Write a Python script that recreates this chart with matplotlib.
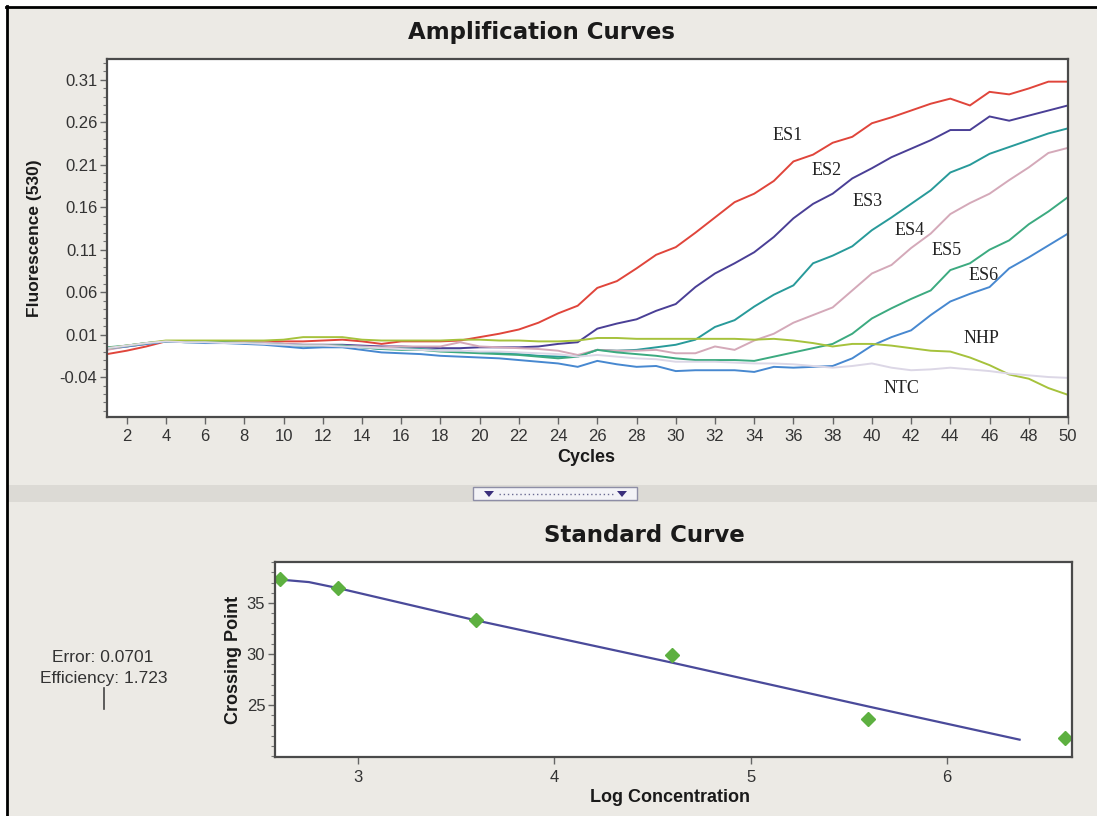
import matplotlib
matplotlib.use("Agg")
import matplotlib.pyplot as plt
from matplotlib.ticker import FixedLocator, MultipleLocator
from matplotlib.patches import Rectangle, Polygon
from matplotlib.lines import Line2D

# ---------------- data ----------------
cycles = list(range(1, 51))

es1 = [-0.013, -0.009, -0.004, 0.002, 0.002, 0.002, 0.002, 0.002, 0.002, 0.002,
       0.002, 0.003, 0.004, 0.002, -0.001, 0.002, 0.002, 0.002, 0.003, 0.007,
       0.011, 0.016, 0.024, 0.035, 0.044, 0.065, 0.073, 0.088, 0.104, 0.113,
       0.130, 0.148, 0.166, 0.176, 0.191, 0.214, 0.222, 0.236, 0.243, 0.259,
       0.266, 0.274, 0.282, 0.288, 0.280, 0.296, 0.293, 0.300, 0.308, 0.308]
es2 = [-0.007, -0.004, -0.001, 0.002, 0.002, 0.001, 0.001, 0.000, 0.000, -0.001,
       -0.002, -0.002, -0.002, -0.003, -0.004, -0.004, -0.005, -0.006, -0.006, -0.005,
       -0.005, -0.005, -0.004, -0.001, 0.001, 0.017, 0.023, 0.028, 0.038, 0.046,
       0.066, 0.082, 0.094, 0.107, 0.125, 0.147, 0.164, 0.176, 0.194, 0.206,
       0.219, 0.229, 0.239, 0.251, 0.251, 0.267, 0.262, 0.268, 0.274, 0.280]
es3 = [-0.006, -0.003, 0.000, 0.002, 0.001, 0.001, 0.001, 0.000, -0.001, -0.002,
       -0.003, -0.003, -0.003, -0.005, -0.007, -0.006, -0.007, -0.009, -0.009, -0.011,
       -0.012, -0.013, -0.015, -0.016, -0.016, -0.008, -0.009, -0.008, -0.005, -0.002,
       0.004, 0.019, 0.027, 0.043, 0.057, 0.068, 0.094, 0.103, 0.114, 0.133,
       0.148, 0.164, 0.180, 0.201, 0.210, 0.223, 0.231, 0.239, 0.247, 0.253]
es4 = [-0.008, -0.004, -0.001, 0.002, 0.002, 0.001, 0.001, 0.001, 0.001, -0.001,
       -0.002, -0.002, -0.003, -0.004, -0.005, -0.004, -0.004, -0.004, 0.001, -0.004,
       -0.005, -0.006, -0.007, -0.009, -0.014, -0.008, -0.009, -0.009, -0.008, -0.012,
       -0.012, -0.004, -0.008, 0.003, 0.011, 0.024, 0.033, 0.042, 0.062, 0.082,
       0.092, 0.112, 0.129, 0.152, 0.165, 0.176, 0.192, 0.207, 0.224, 0.230]
es5 = [-0.005, -0.003, 0.000, 0.002, 0.002, 0.001, 0.001, 0.000, -0.001, -0.002,
       -0.003, -0.003, -0.003, -0.005, -0.007, -0.008, -0.008, -0.010, -0.011, -0.012,
       -0.013, -0.014, -0.016, -0.018, -0.016, -0.008, -0.011, -0.013, -0.015, -0.018,
       -0.020, -0.020, -0.020, -0.021, -0.016, -0.011, -0.006, -0.001, 0.011, 0.029,
       0.041, 0.052, 0.062, 0.086, 0.094, 0.110, 0.121, 0.140, 0.155, 0.172]
es6 = [-0.006, -0.004, -0.001, 0.002, 0.001, 0.000, 0.000, -0.001, -0.002, -0.004,
       -0.006, -0.005, -0.005, -0.008, -0.011, -0.012, -0.013, -0.015, -0.016, -0.017,
       -0.018, -0.020, -0.022, -0.024, -0.028, -0.021, -0.025, -0.028, -0.027, -0.033,
       -0.032, -0.032, -0.032, -0.034, -0.028, -0.029, -0.028, -0.027, -0.018, -0.003,
       0.007, 0.015, 0.033, 0.049, 0.058, 0.066, 0.088, 0.101, 0.115, 0.129]
nhp = [-0.006, -0.003, 0.000, 0.003, 0.003, 0.003, 0.003, 0.003, 0.003, 0.004,
       0.007, 0.007, 0.007, 0.004, 0.003, 0.003, 0.003, 0.003, 0.004, 0.004,
       0.003, 0.003, 0.002, 0.002, 0.003, 0.006, 0.006, 0.005, 0.005, 0.005,
       0.005, 0.005, 0.005, 0.004, 0.005, 0.003, 0.000, -0.004, -0.001, -0.001,
       -0.003, -0.006, -0.009, -0.010, -0.017, -0.026, -0.037, -0.042, -0.053, -0.061]
ntc = [-0.006, -0.003, 0.000, 0.002, 0.001, 0.001, 0.000, 0.000, -0.001, -0.002,
       -0.003, -0.003, -0.004, -0.005, -0.006, -0.007, -0.008, -0.009, -0.009, -0.010,
       -0.010, -0.011, -0.012, -0.013, -0.016, -0.014, -0.016, -0.018, -0.019, -0.022,
       -0.022, -0.022, -0.023, -0.024, -0.024, -0.025, -0.027, -0.029, -0.027, -0.024,
       -0.029, -0.032, -0.031, -0.029, -0.031, -0.033, -0.036, -0.038, -0.040, -0.041]

series_names = ["ES1", "ES2", "ES3", "ES4", "ES5", "ES6", "NHP", "NTC"]
series_values = [es1, es2, es3, es4, es5, es6, nhp, ntc]
series_colors = ["#E0453B", "#4A3F96", "#289A9A", "#D4A9B9",
                 "#3CAA80", "#4788D0", "#A6C23C", "#DCD7E6"]
# label anchor (cycle, fluorescence)
label_pos = [(35.7, 0.245), (37.7, 0.203), (39.8, 0.167), (41.9, 0.133),
             (43.8, 0.109), (45.7, 0.080), (45.6, 0.005), (41.5, -0.053)]

amp_yticks = [0.31, 0.26, 0.21, 0.16, 0.11, 0.06, 0.01, -0.04]
amp_xticks = list(range(2, 51, 2))

log_conc = [2.6, 2.9, 3.6, 4.6, 5.6, 6.6]
crossing_pt = [37.35, 36.47, 33.33, 29.9, 23.63, 21.76]
fit_x = [2.6, 2.75, 2.9, 3.6, 4.6, 5.6, 6.37]
fit_y = [37.3, 37.05, 36.45, 33.3, 29.15, 24.85, 21.6]
std_yticks = [25, 30, 35]
std_xticks = [3, 4, 5, 6]

error_val = "0.0701"
efficiency_val = "1.723"

# ---------------- figure ----------------
W, H = 1097, 816
fig = plt.figure(figsize=(W / 100, H / 100), dpi=100)
fig.patch.set_facecolor("white")


def fx(px):
    return px / W


def fy(py):
    return 1 - py / H


# window panel, frame and splitter bar
fig.add_artist(Rectangle((fx(8), 0), 1 - fx(8), fy(8), transform=fig.transFigure,
                         facecolor="#ECEAE5", edgecolor="none", zorder=-10))
fig.add_artist(Line2D([fx(7), fx(7)], [0, fy(6)], transform=fig.transFigure,
                      color="black", lw=2.0))
fig.add_artist(Line2D([fx(6), 1], [fy(7), fy(7)], transform=fig.transFigure,
                      color="black", lw=2.0))
fig.add_artist(Rectangle((fx(8), fy(502)), 1 - fx(8), (502 - 485) / H,
                         transform=fig.transFigure, facecolor="#DCDAD5",
                         edgecolor="none", zorder=-9))
fig.add_artist(Rectangle((fx(473), fy(500)), (637 - 473) / W, (500 - 487) / H,
                         transform=fig.transFigure, facecolor="#F3F3F7",
                         edgecolor="#8E8EA6", lw=1.0, zorder=-8))
for cx in (489, 622):
    fig.add_artist(Polygon([(fx(cx - 5), fy(491)), (fx(cx + 5), fy(491)),
                            (fx(cx), fy(497))], closed=True,
                           transform=fig.transFigure, facecolor="#3A2F7C",
                           edgecolor="none", zorder=-7))
fig.add_artist(Line2D([fx(499), fx(614)], [fy(494), fy(494)],
                      transform=fig.transFigure, color="#6B6B92", lw=1.0,
                      ls=(0, (1, 2)), zorder=-7))

spine_col = "#4A4A4A"
tick_col = "#333333"
sans = "Liberation Sans"


def style_axes(ax):
    ax.set_facecolor("white")
    for s in ax.spines.values():
        s.set_color(spine_col)
        s.set_linewidth(1.6)
    ax.tick_params(axis="both", which="major", direction="out", length=5,
                   width=1.0, color="#666666", labelsize=12, labelcolor=tick_col,
                   pad=2)
    ax.tick_params(axis="both", which="minor", direction="out", length=3,
                   width=0.8, color="#777777")
    ax.tick_params(axis="x", which="major", pad=4)
    for lab in ax.get_xticklabels() + ax.get_yticklabels():
        lab.set_fontfamily(sans)


# ---------------- amplification curves ----------------
ax1 = fig.add_axes([fx(107), fy(417), (1068 - 107) / W, (417 - 59) / H])
for name, vals, col in zip(series_names, series_values, series_colors):
    ax1.plot(cycles, vals, color=col, lw=1.4, solid_joinstyle="miter")
for name, (cx, cy) in zip(series_names, label_pos):
    ax1.text(cx, cy, name, ha="center", va="center", fontsize=13,
             family="Liberation Serif", color="#222222")
ax1.set_xlim(1, 50)
ax1.set_ylim(-0.0871, 0.3347)
ax1.yaxis.set_major_locator(FixedLocator(amp_yticks))
ax1.yaxis.set_minor_locator(MultipleLocator(0.01))
ax1.set_yticklabels([f"{v:.2f}" for v in amp_yticks])
ax1.xaxis.set_major_locator(FixedLocator(amp_xticks))
ax1.set_xticklabels([str(v) for v in amp_xticks])
style_axes(ax1)

fig.text(fx(542), fy(33), "Amplification Curves", ha="center", va="center",
         fontsize=16.5, fontweight="bold", family="DejaVu Sans", color="#1A1A1A")
fig.text(fx(35), fy(238), "Fluorescence (530)", rotation=90, ha="center",
         va="center", fontsize=12.5, fontweight="bold", family=sans, color="#1A1A1A")
fig.text(fx(586), fy(457), "Cycles", ha="center", va="center", fontsize=13,
         fontweight="bold", family=sans, color="#1A1A1A")

# ---------------- standard curve ----------------
ax2 = fig.add_axes([fx(275), fy(757), (1072 - 275) / W, (757 - 562) / H])
ax2.plot(fit_x, fit_y, color="#4A4A9A", lw=1.6)
ax2.plot(log_conc, crossing_pt, ls="none", marker="D", ms=7,
         color="#5DB040", mec="#5DB040")
ax2.set_xlim(2.577, 6.637)
ax2.set_ylim(19.9, 39.02)
ax2.yaxis.set_major_locator(FixedLocator(std_yticks))
ax2.yaxis.set_minor_locator(MultipleLocator(1))
ax2.xaxis.set_major_locator(FixedLocator(std_xticks))
ax2.set_yticklabels([str(v) for v in std_yticks])
ax2.set_xticklabels([str(v) for v in std_xticks])
style_axes(ax2)

fig.text(fx(644), fy(536), "Standard Curve", ha="center", va="center",
         fontsize=16.5, fontweight="bold", family="DejaVu Sans", color="#1A1A1A")
fig.text(fx(233), fy(660), "Crossing Point", rotation=90, ha="center",
         va="center", fontsize=13, fontweight="bold", family=sans, color="#1A1A1A")
fig.text(fx(670), fy(798), "Log Concentration", ha="center", va="center",
         fontsize=13, fontweight="bold", family=sans, color="#1A1A1A")

fig.text(fx(103), fy(657), f"Error: {error_val}", ha="center", va="center",
         fontsize=12.5, family=sans, color="#333333")
fig.text(fx(104), fy(678), f"Efficiency: {efficiency_val}", ha="center",
         va="center", fontsize=12.5, family=sans, color="#333333")
fig.add_artist(Line2D([fx(104), fx(104)], [fy(688), fy(709)],
                      transform=fig.transFigure, color="#444444", lw=1.2))

fig.savefig("out.png", dpi=100, facecolor=fig.get_facecolor())
